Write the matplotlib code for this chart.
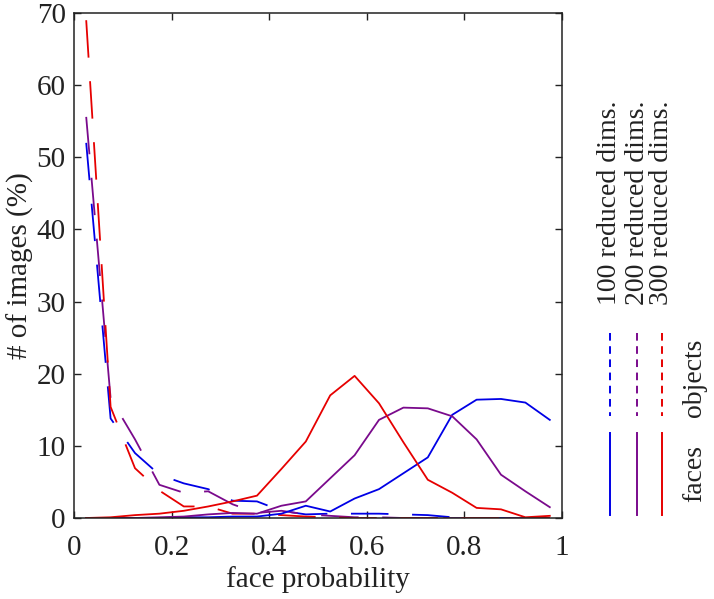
import matplotlib
matplotlib.use('Agg')
import matplotlib.pyplot as plt
from matplotlib.lines import Line2D

plt.rcParams['font.family'] = ['Liberation Serif', 'DejaVu Serif']
plt.rcParams['font.size'] = 21
plt.rcParams['lines.scale_dashes'] = False

# bin centres of face probability
prob = [0.025, 0.075, 0.125, 0.175, 0.225, 0.275, 0.325, 0.375, 0.425, 0.475,
        0.525, 0.575, 0.625, 0.675, 0.725, 0.775, 0.825, 0.875, 0.925, 0.975]

# % of images, faces (solid)
faces_100 = [0, 0, 0, 0, 0.1, 0.1, 0.2, 0.2, 0.6, 1.7,
             0.9, 2.7, 4.0, 6.2, 8.4, 14.3, 16.4, 16.5, 16.0, 13.6]
faces_200 = [0, 0, 0, 0.1, 0.2, 0.5, 0.7, 0.6, 1.7, 2.3,
             5.5, 8.7, 13.6, 15.3, 15.2, 14.1, 10.9, 6.0, 3.7, 1.5]
faces_300 = [0.0, 0.1, 0.4, 0.6, 1.0, 1.6, 2.3, 3.1, 6.8, 10.6,
             17.0, 19.7, 15.9, 10.5, 5.3, 3.5, 1.4, 1.2, 0.1, 0.3]

# % of images, objects (dashed)
objects_100 = [52.0, 13.8, 9.0, 6.0, 4.8, 4.0, 2.4, 2.3, 1.0, 0.5,
               0.6, 0.6, 0.6, 0.5, 0.4, 0.1, 0, 0, 0, 0]
objects_200 = [55.6, 16.6, 10.9, 4.6, 3.5, 3.7, 1.9, 0.7, 1.0, 0.5,
               0.3, 0.1, 0.1, 0, 0, 0, 0, 0, 0, 0]
objects_300 = [69.0, 15.4, 6.9, 3.8, 1.6, 1.6, 0.6, 0.6, 0.4, 0.2,
               0.1, 0, 0, 0, 0, 0, 0, 0, 0, 0]

labels = ['100 reduced dims.', '200 reduced dims.', '300 reduced dims.']
colors = ['#0000e6', '#7a0a8c', '#e60000']
txt = '#222222'

fig = plt.figure(figsize=(7.14, 5.99), dpi=100)
ax = fig.add_axes([74/714, 81/599, 488/714, 505/599])

for obj, col in zip([objects_100, objects_200, objects_300], colors):
    ax.plot(prob, obj, color=col, lw=1.3, dashes=(27, 17))
for fac, col in zip([faces_100, faces_200, faces_300], colors):
    ax.plot(prob, fac, color=col, lw=1.3)

ax.set_xlim(0, 1)
ax.set_ylim(0, 70)
ax.set_xticks([0, 0.2, 0.4, 0.6, 0.8, 1])
ax.set_xticklabels(['0', '0.2', '0.4', '0.6', '0.8', '1'])
ax.set_yticks(range(0, 71, 10))
ax.tick_params(direction='in', length=5, width=1, top=True, right=True,
               colors=txt, labelcolor=txt)
ax.tick_params(axis='x', pad=12)
ax.tick_params(axis='y', pad=6)
for s in ax.spines.values():
    s.set_linewidth(1.1)
    s.set_color(txt)
ax.set_xlabel('face probability', color=txt, labelpad=4)
ax.set_ylabel('# of images (%)', color=txt, labelpad=2)

# hand-made rotated legend on the right
H = 599.0
def fy(p):
    return (H - p) / H
for xp, col, lab in zip([610, 637, 662], colors, labels):
    x = xp / 714
    fig.add_artist(Line2D([x, x], [fy(333), fy(416)], color=col, lw=1.4,
                          dashes=(5.5, 4)))
    fig.add_artist(Line2D([x, x], [fy(433), fy(515)], color=col, lw=1.4))
    fig.text(x, fy(305), lab, rotation=90, ha='center', va='bottom',
             color=txt, fontsize=20)
fig.text(695/714, fy(378), 'objects', rotation=90, ha='center', va='center',
         color=txt, fontsize=20)
fig.text(695/714, fy(474), 'faces', rotation=90, ha='center', va='center',
         color=txt, fontsize=20)

fig.savefig('out.png', dpi=100)
